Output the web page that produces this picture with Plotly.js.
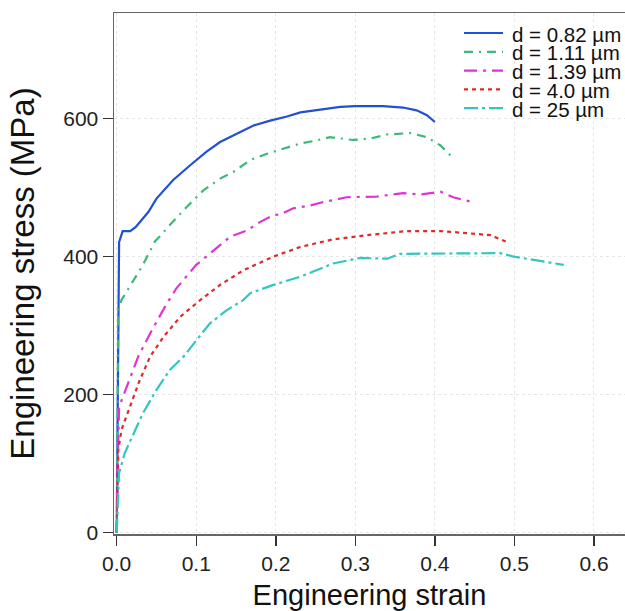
<!DOCTYPE html>
<html>
<head>
<meta charset="utf-8">
<script src="https://cdn.plot.ly/plotly-3.0.1.min.js"></script>
<style>html,body{margin:0;padding:0;background:#fff;}#chart{width:625px;height:611px;}</style>
</head>
<body>
<div id="chart"></div>
<script>
// ---- data ----
const seriesNames = ["d = 0.82 µm", "d = 1.11 µm", "d = 1.39 µm", "d = 4.0 µm", "d = 25 µm"];

const strain_082 = [0, 0.002, 0.003, 0.003, 0.0075, 0.017, 0.024, 0.029, 0.040, 0.050, 0.071, 0.092, 0.113, 0.130, 0.151, 0.172, 0.193, 0.214, 0.231, 0.243, 0.281, 0.300, 0.335, 0.360, 0.377, 0.390, 0.400];
const stress_082 = [0, 250, 380, 421, 437, 437, 443, 450, 465, 484, 511, 532, 552, 566, 578, 590, 597, 603, 609, 611, 617, 618, 618, 616, 612, 605, 595];

const strain_111 = [0, 0.001, 0.002, 0.006, 0.019, 0.033, 0.048, 0.054, 0.067, 0.088, 0.109, 0.130, 0.147, 0.168, 0.189, 0.214, 0.231, 0.250, 0.268, 0.297, 0.319, 0.340, 0.369, 0.390, 0.407, 0.421];
const stress_111 = [0, 150, 322, 337, 361, 388, 422, 429, 446, 472, 496, 513, 523, 540, 549, 558, 564, 568, 573, 569, 571, 577, 579, 573, 561, 545];

const strain_139 = [0, 0.001, 0.003, 0.0126, 0.027, 0.044, 0.063, 0.075, 0.088, 0.100, 0.122, 0.143, 0.164, 0.180, 0.197, 0.205, 0.222, 0.243, 0.256, 0.289, 0.327, 0.360, 0.382, 0.407, 0.423, 0.447];
const stress_139 = [0, 90, 182, 211, 255, 293, 332, 354, 371, 388, 409, 429, 438, 450, 460, 461, 470, 474, 478, 486, 487, 492, 490, 494, 486, 479];

const strain_40 = [0, 0.001, 0.002, 0.006, 0.017, 0.029, 0.042, 0.059, 0.080, 0.105, 0.130, 0.159, 0.197, 0.231, 0.272, 0.314, 0.365, 0.407, 0.440, 0.470, 0.491];
const stress_40 = [0, 60, 120, 149, 182, 221, 255, 284, 313, 337, 359, 380, 400, 414, 425, 431, 437, 437, 434, 431, 421];

const strain_25 = [0, 0.001, 0.003, 0.010, 0.021, 0.033, 0.050, 0.067, 0.084, 0.101, 0.117, 0.138, 0.159, 0.168, 0.197, 0.231, 0.272, 0.306, 0.340, 0.356, 0.386, 0.440, 0.482, 0.499, 0.524, 0.562];
const stress_25 = [0, 40, 86, 115, 144, 173, 207, 236, 255, 279, 303, 322, 337, 347, 359, 371, 390, 398, 397, 404, 404, 404, 405, 400, 395, 388];

const xTickVals = [0, 0.1, 0.2, 0.3, 0.4, 0.5, 0.6];
const xTickText = ["0.0", "0.1", "0.2", "0.3", "0.4", "0.5", "0.6"];
const yTickVals = [0, 200, 400, 600];
const yTickText = ["0", "200", "400", "600"];

// ---- styles ----
const colors = ["#2150d6", "#3cb878", "#de35d2", "#dc2b2b", "#33c6c0"];
const dashes = ["solid", "9px,6px,2px,6px", "13px,6px,3px,6px", "4px,4px", "14px,4px,3px,4px"];
const xs = [strain_082, strain_111, strain_139, strain_40, strain_25];
const ys = [stress_082, stress_111, stress_139, stress_40, stress_25];

const traces = xs.map((x, i) => ({
  x: x, y: ys[i], type: "scatter", mode: "lines", name: seriesNames[i],
  line: {color: colors[i], width: 2.2, dash: dashes[i]}, showlegend: false
}));

// plot area in pixels
const W = 625, H = 611, L = 114, R = 0, T = 13, B = 77;
const pw = W - L - R, ph = H - T - B;
const px2x = p => (p - L) / pw;
const py2y = p => (H - B - p) / ph;

// manual compact legend
const shapes = [], annotations = [];
seriesNames.forEach((n, i) => {
  const yy = 33 + 18.8 * i;
  shapes.push({type: "line", xref: "paper", yref: "paper",
    x0: px2x(464), x1: px2x(503), y0: py2y(yy), y1: py2y(yy),
    line: {color: colors[i], width: 2.2, dash: dashes[i]}});
  annotations.push({xref: "paper", yref: "paper", x: px2x(510), y: py2y(yy + 1),
    xanchor: "left", yanchor: "middle", text: n, showarrow: false,
    font: {family: "Liberation Sans, Arial, sans-serif", size: 20.5, color: "#111"}});
});

const font = "Liberation Sans, Arial, sans-serif";
const layout = {
  width: W, height: H,
  margin: {l: L, r: R, t: T, b: B, pad: 0},
  paper_bgcolor: "#fff", plot_bgcolor: "#fff",
  showlegend: false,
  xaxis: {
    range: [-0.0034, 0.639], tickvals: xTickVals, ticktext: xTickText,
    ticks: "outside", ticklen: 10, tickwidth: 1.5, tickcolor: "#333",
    showline: true, linecolor: "#666", linewidth: 1.5, mirror: true,
    showgrid: true, gridcolor: "#e6e6e6", griddash: "dot", gridwidth: 1,
    zeroline: false,
    tickfont: {family: font, size: 21, color: "#222"},
    title: {text: "Engineering strain", font: {family: font, size: 29, color: "#111"}, standoff: 14}
  },
  yaxis: {
    range: [-2, 753], tickvals: yTickVals, ticktext: yTickText,
    ticks: "outside", ticklen: 10, tickwidth: 1.5, tickcolor: "#333",
    showline: true, linecolor: "#666", linewidth: 1.5, mirror: false,
    showgrid: true, gridcolor: "#e6e6e6", griddash: "dot", gridwidth: 1,
    zeroline: false,
    tickfont: {family: font, size: 21, color: "#222"},
    title: {text: "Engineering stress (MPa)", font: {family: font, size: 33, color: "#111"}, standoff: 18}
  },
  shapes: shapes,
  annotations: annotations
};

Plotly.newPlot("chart", traces, layout, {staticPlot: true, displayModeBar: false});
</script>
</body>
</html>
